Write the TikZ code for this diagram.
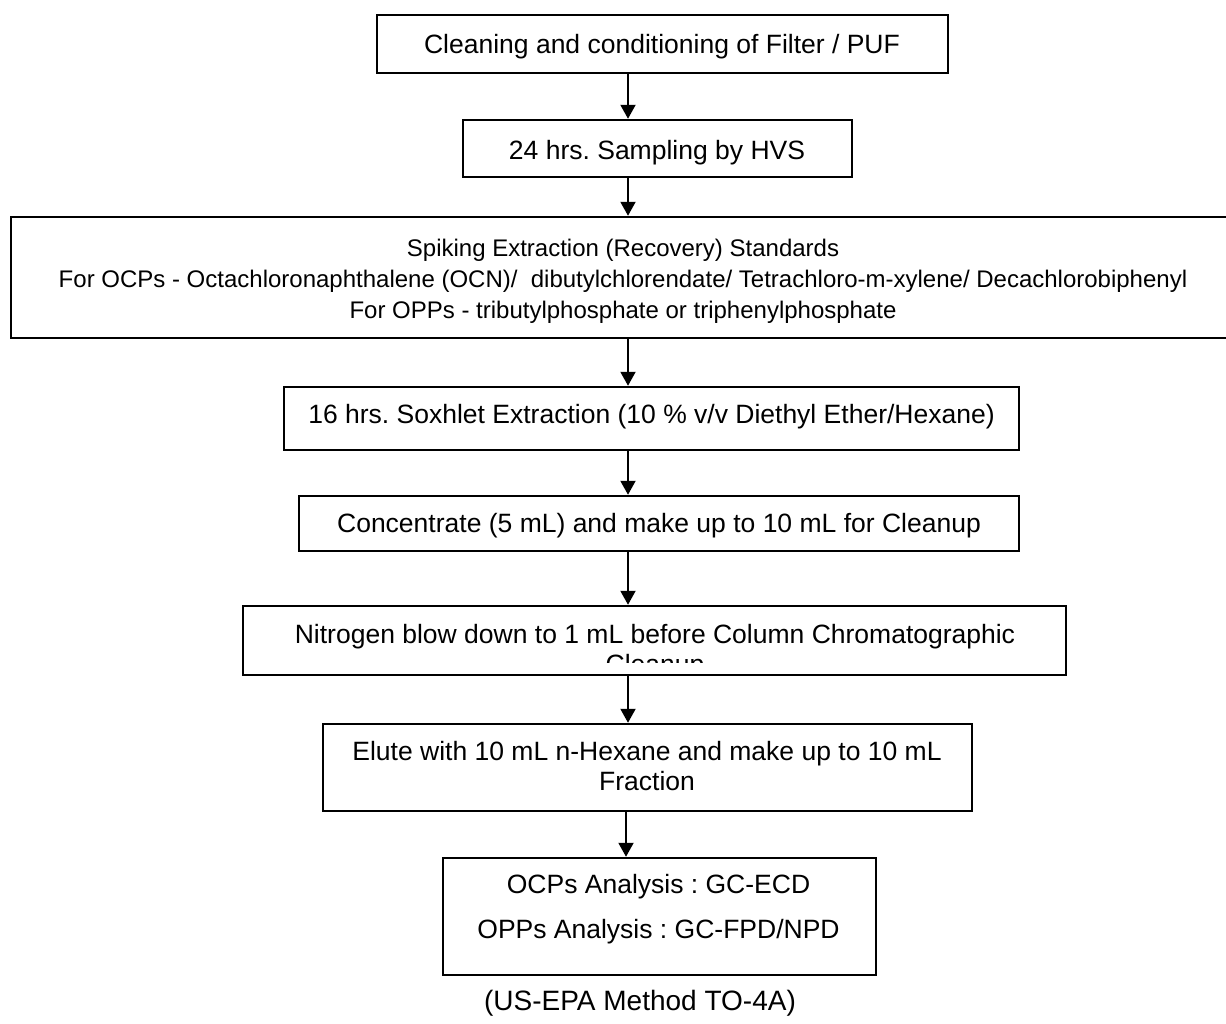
\documentclass[tikz,border=0pt]{standalone}
\usepackage{fontspec}
\setmainfont{Liberation Sans}
\usetikzlibrary{arrows.meta}
\frenchspacing
\begin{document}
\begin{tikzpicture}[x=0.5pt,y=-0.5pt,
  box/.style={draw, line width=1.25pt, rectangle, inner sep=0pt},
  lbl/.style={anchor=base, inner sep=0pt, font=\fontsize{13.25pt}{15pt}\selectfont},
  lblsmall/.style={anchor=base, inner sep=0pt, font=\fontsize{12pt}{14pt}\selectfont},
  flow/.style={line width=1pt, -{Triangle[length=7pt,width=7.5pt]}}]
\useasboundingbox (0,0) rectangle (1226,1023);

% process boxes
\node[box, minimum width=285.5pt, minimum height=29pt]   (b1) at (662.5,44)  {};
\node[box, minimum width=194.5pt, minimum height=28.5pt] (b2) at (657.5,148.5) {};
\node[box, minimum width=614.5pt, minimum height=60.5pt] (b3) at (625.5,277.5) {};
\node[box, minimum width=367.5pt, minimum height=31.5pt] (b4) at (651.5,418.5) {};
\node[box, minimum width=360pt,   minimum height=27.5pt] (b5) at (659,523.5) {};
\node[box, minimum width=411.5pt, minimum height=34.5pt] (b6) at (654.5,640.5) {};
\node[box, minimum width=324.5pt, minimum height=43.5pt] (b7) at (647.5,767.5) {};
\node[box, minimum width=216.5pt, minimum height=58.5pt] (b8) at (659.5,916.5) {};

% box texts
\node[lbl] (t1) at (662,53) {Cleaning and conditioning of Filter / PUF};
\node[lbl] (t2) at (657,159) {24 hrs. Sampling by HVS};
\node[lblsmall] (t3a) at (623,256) {Spiking Extraction (Recovery) Standards};
\node[lblsmall] (t3b) at (623,287) {For OCPs - Octachloronaphthalene (OCN)/\ \ dibutylchlorendate/ Tetrachloro-m-xylene/ Decachlorobiphenyl};
\node[lblsmall] (t3c) at (623,318) {For OPPs - tributylphosphate or triphenylphosphate};
\node[lbl] (t4) at (651.5,423) {16 hrs. Soxhlet Extraction (10 \% v/v Diethyl Ether/Hexane)};
\node[lbl] (t5) at (659,532) {Concentrate (5 mL) and make up to 10 mL for Cleanup};
\begin{scope}
  \clip (243,606) rectangle (1066,662);
  \node[lbl] (t6a) at (655,643) {Nitrogen blow down to 1 mL before Column Chromatographic};
  \node[lbl] (t6b) at (655,673) {Cleanup};
\end{scope}
\node[lbl] (t7a) at (647,760) {Elute with 10 mL n-Hexane and make up to 10 mL};
\node[lbl] (t7b) at (647,790) {Fraction};
\node[lbl] (t8a) at (658.5,893) {OCPs Analysis : GC-ECD};
\node[lbl] (t8b) at (658.5,938) {OPPs Analysis : GC-FPD/NPD};

% caption
\node[anchor=base, inner sep=0pt, font=\fontsize{14pt}{16pt}\selectfont] (cap) at (640,1010) {(US-EPA Method TO-4A)};

% flow arrows
\coordinate (ax) at (628,0);
\coordinate (axb) at (626,0);
\draw[flow] (b1.south -| ax) -- (b2.north -| ax);
\draw[flow] (b2.south -| ax) -- (b3.north -| ax);
\draw[flow] (b3.south -| ax) -- (b4.north -| ax);
\draw[flow] (b4.south -| ax) -- (b5.north -| ax);
\draw[flow] (b5.south -| ax) -- (b6.north -| ax);
\draw[flow] (b6.south -| ax) -- (b7.north -| ax);
\draw[flow] (b7.south -| axb) -- (b8.north -| axb);
\end{tikzpicture}
\end{document}
